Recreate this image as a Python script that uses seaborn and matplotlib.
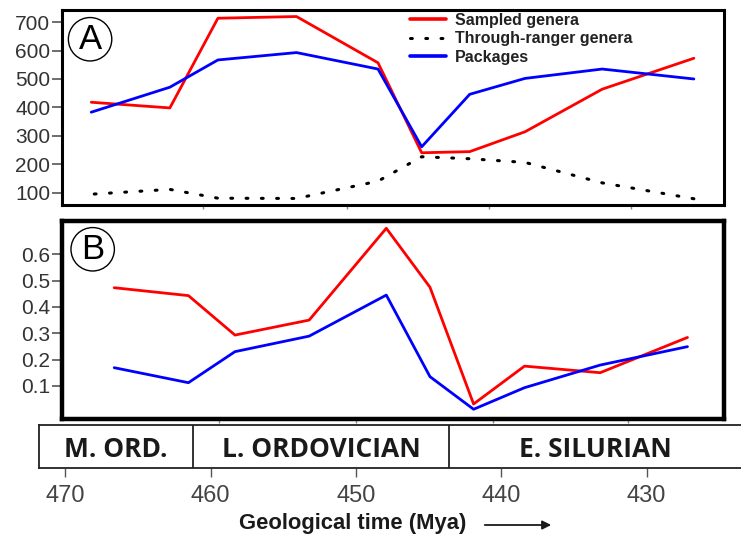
import matplotlib
matplotlib.use("Agg")
import matplotlib.pyplot as plt
import seaborn as sns
import pandas as pd
from matplotlib.lines import Line2D

# ---------------- data ----------------
a_time = [468.2, 462.8, 459.5, 454.1, 448.5, 445.5, 442.2, 438.4, 433.1, 426.8]
a_sampled = [418, 398, 714, 720, 557, 240, 244, 314, 464, 573]
a_through = [94, 111, 80, 79, 140, 226, 219, 206, 134, 78]
a_packages = [383, 471, 567, 593, 535, 261, 446, 502, 535, 500]

b_time = [466.6, 461.5, 458.3, 453.2, 447.9, 444.9, 441.9, 438.4, 433.2, 427.2]
b_sampled = [0.473, 0.443, 0.293, 0.350, 0.699, 0.475, 0.031, 0.175, 0.150, 0.284]
b_packages = [0.169, 0.112, 0.230, 0.289, 0.445, 0.135, 0.011, 0.093, 0.179, 0.249]

a_yticks = [100, 200, 300, 400, 500, 600, 700]
b_yticks = [0.1, 0.2, 0.3, 0.4, 0.5, 0.6]
a_minor_xticks = [460.5, 450.6, 440.9, 431.1]
b_minor_xticks = [459.4, 450.0, 440.6, 431.3]
time_ticks = [470, 460, 450, 440, 430]
period_names = ["M. ORD.", "L. ORDOVICIAN", "E. SILURIAN"]
period_start = [471.8, 461.2, 443.6]
period_end = [461.2, 443.6, 423.5]

series_names = ["Sampled genera", "Through-ranger genera", "Packages"]
RED = "#ff0000"
BLUE = "#0000ff"

# ---------------- style ----------------
sns.set_style("white")
plt.rcParams["font.family"] = ["Liberation Sans", "DejaVu Sans"]

W, H = 741, 537
fig = plt.figure(figsize=(W / 100, H / 100), dpi=100)


def pos(left, top, right, bottom):
    return [left / W, 1 - bottom / H, (right - left) / W, (bottom - top) / H]


axA = fig.add_axes(pos(62, 10, 724.3, 205))
axB = fig.add_axes(pos(61.7, 220.5, 723.7, 419))
axT = fig.add_axes(pos(39, 425, 741, 468.3))

dfA = pd.DataFrame({"time": a_time, series_names[0]: a_sampled,
                    series_names[1]: a_through, series_names[2]: a_packages})
dfB = pd.DataFrame({"time": b_time, series_names[0]: b_sampled,
                    series_names[2]: b_packages})

lw = 2.0
dots = (0, (0.6, 4.4))
sns.lineplot(data=dfA, x="time", y=series_names[0], ax=axA, color=RED, lw=lw)
sns.lineplot(data=dfA, x="time", y=series_names[1], ax=axA, color="black",
             lw=2.2, linestyle=dots, dash_capstyle="round")
sns.lineplot(data=dfA, x="time", y=series_names[2], ax=axA, color=BLUE, lw=lw)

sns.lineplot(data=dfB, x="time", y=series_names[0], ax=axB, color=RED, lw=lw)
sns.lineplot(data=dfB, x="time", y=series_names[2], ax=axB, color=BLUE, lw=lw)

panel_xlim = (470.21, 424.71)
for ax, yl, yt, mx, spw in [(axA, (56, 743), a_yticks, a_minor_xticks, 2.2),
                            (axB, (-0.026, 0.7285), b_yticks, b_minor_xticks, 3.2)]:
    ax.set_xlim(*panel_xlim)
    ax.set_ylim(*yl)
    ax.set_yticks(yt)
    ax.set_xticks(mx)
    ax.set_xticklabels([])
    ax.set_xlabel("")
    ax.set_ylabel("")
    for s in ax.spines.values():
        s.set_visible(True)
        s.set_linewidth(spw)
        s.set_color("black")
    ax.tick_params(axis="y", left=True, length=7, width=1.2, color="#555555",
                   pad=1.5, labelsize=15, labelcolor="#333333")
    ax.tick_params(axis="x", bottom=True, length=3, width=1.0, color="#888888")

axB.set_yticklabels([f"{v:.1f}" for v in b_yticks])

# panel letters
for ax, letter, cx, cy in [(axA, "A", 0.0424, 0.85), (axB, "B", 0.0468, 0.855)]:
    ax.text(cx, cy, letter, transform=ax.transAxes, ha="center", va="center",
            fontsize=25, color="black",
            bbox=dict(boxstyle="circle,pad=0.15", fc="white", ec="black", lw=1.0))

# legend
handles = [Line2D([], [], color=RED, lw=2.6),
           Line2D([], [], color="black", lw=2.2, linestyle=dots,
                  dash_capstyle="round"),
           Line2D([], [], color=BLUE, lw=2.6)]
leg = axA.legend(handles, series_names, loc="upper left",
                 bbox_to_anchor=(0.5247, 0.985), frameon=False, borderpad=0,
                 borderaxespad=0, handlelength=2.3, handletextpad=0.55,
                 labelspacing=0.22, prop=dict(size=11.5, weight="bold"))
for t in leg.get_texts():
    t.set_color("#222222")

# ---------------- timescale bar ----------------
axT.set_xlim(period_start[0], period_end[-1])
axT.set_ylim(0, 1)
axT.set_yticks([])
axT.set_xticks(time_ticks)
axT.set_xticklabels([str(v) for v in time_ticks])
axT.tick_params(axis="x", bottom=True, length=6.5, width=1.0, color="#555555",
                pad=5.5, labelsize=17, labelcolor="#444444")
for k, s in axT.spines.items():
    s.set_linewidth(1.3)
    s.set_color("#222222")
axT.spines["right"].set_visible(False)
for name, s0, s1 in zip(period_names, period_start, period_end):
    if s1 != period_end[-1]:
        axT.axvline(s1, color="#222222", lw=1.3)
    axT.text((s0 + s1) / 2, 0.43, name, ha="center", va="center",
             fontsize=19, fontweight="bold", color="#1a1a1a",
             family=["Open Sans", "DejaVu Sans"])

fig.text(352.5 / W, 1 - 523.5 / H, "Geological time (Mya)", ha="center",
         va="center", fontsize=15.8, fontweight="bold", color="#1a1a1a")
fig.add_artist(matplotlib.patches.FancyArrowPatch(
    (482 / W, 1 - 525 / H), (554 / W, 1 - 525 / H), transform=fig.transFigure,
    arrowstyle="-|>", mutation_scale=13, lw=1.3, color="#1a1a1a"))

fig.savefig("out.png", dpi=100)
